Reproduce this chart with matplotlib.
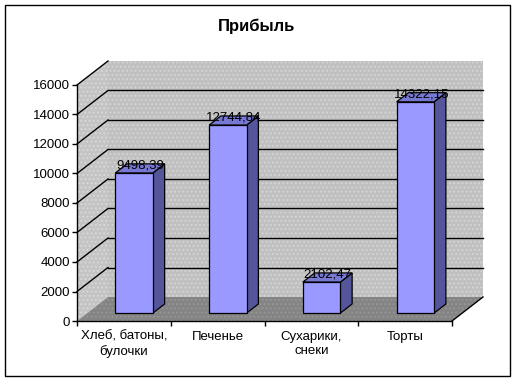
import matplotlib
matplotlib.use("Agg")
import matplotlib.pyplot as plt
from matplotlib.patches import Polygon, Rectangle
from matplotlib.transforms import ScaledTranslation, IdentityTransform

# данные с графика
categories = ["Хлеб, батоны,\nбулочки", "Печенье", "Сухарики,\nснеки", "Торты"]
values = [9498.39, 12744.84, 2102.47, 14322.15]
value_labels = ["9498,39", "12744,84", "2102,47", "14322,15"]
yticks = [0, 2000, 4000, 6000, 8000, 10000, 12000, 14000, 16000]
title = "Прибыль"

W, H, DPI = 517, 381, 100
DEPTH_X, DEPTH_Y = 31, 24          # сдвиг задней стенки, px
BAR_Z0, BAR_Z1 = 0.33, 0.71        # глубина столбика (доля)
BAR_HALF = 0.2                     # половина ширины столбика (в категориях)
FS = 9.5

plt.rcParams["font.family"] = ["Liberation Sans", "DejaVu Sans"]
plt.rcParams["hatch.linewidth"] = 0.8

fig = plt.figure(figsize=(W / DPI, H / DPI), dpi=DPI)
ax = fig.add_axes([77 / W, (H - 321) / H, 375 / W, 236 / H])
ax.set_xlim(0, len(categories))
ax.set_ylim(yticks[0], yticks[-1])
ax.patch.set_visible(False)
for s in ("top", "right"):
    ax.spines[s].set_visible(False)
for s in ("left", "bottom"):
    ax.spines[s].set_linewidth(1)
    ax.spines[s].set_zorder(10)


def depth(z):
    """transData, сдвинутый вглубь на долю z"""
    return ax.transData + ScaledTranslation(z * DEPTH_X / DPI, z * DEPTH_Y / DPI, fig.dpi_scale_trans)


def P(x, v, z):
    return depth(z).transform((x, v))


def poly(points, **kw):
    p = Polygon(points, closed=True, transform=IdentityTransform(), clip_on=False, **kw)
    ax.add_patch(p)
    return p


def line(a, b, **kw):
    ax.plot([a[0], b[0]], [a[1], b[1]], transform=IdentityTransform(), clip_on=False, **kw)


n = len(categories)
top = yticks[-1]

# стенки и пол
poly([P(0, 0, 1), P(n, 0, 1), P(n, top, 1), P(0, top, 1)],
     facecolor="#c0c0c0", edgecolor="#d6d6d6", hatch="....", lw=0, zorder=1)
poly([P(0, 0, 0), P(0, 0, 1), P(0, top, 1), P(0, top, 0)],
     facecolor="#c4c4c4", edgecolor="#dadada", hatch="....", lw=0, zorder=1)
poly([P(0, 0, 0), P(n, 0, 0), P(n, 0, 1), P(0, 0, 1)],
     facecolor="#848484", edgecolor="#989898", hatch="....", lw=0, zorder=1)
line(P(n, 0, 0), P(n, 0, 1), color="black", lw=1, zorder=2)

# сетка
for v in yticks[1:]:
    if v < top:
        line(P(0, v, 1), P(n, v, 1), color="black", lw=1, zorder=2)
    line(P(0, v, 0), P(0, v, 1), color="black", lw=1, zorder=2)

# столбики
for i, v in enumerate(values):
    x0, x1 = i + 0.5 - BAR_HALF, i + 0.5 + BAR_HALF
    front = [P(x0, 0, BAR_Z0), P(x1, 0, BAR_Z0), P(x1, v, BAR_Z0), P(x0, v, BAR_Z0)]
    side = [P(x1, 0, BAR_Z0), P(x1, 0, BAR_Z1), P(x1, v, BAR_Z1), P(x1, v, BAR_Z0)]
    roof = [P(x0, v, BAR_Z0), P(x1, v, BAR_Z0), P(x1, v, BAR_Z1), P(x0, v, BAR_Z1)]
    poly(side, facecolor="#55559c", edgecolor="black", lw=0.9, zorder=3)
    poly(roof, facecolor="#7777d4", edgecolor="black", lw=0.9, zorder=3)
    poly(front, facecolor="#9999ff", edgecolor="black", lw=0.9, zorder=4)
    ax.text(i + 0.5, v, value_labels[i], transform=depth(0.52), ha="center", va="baseline",
            fontsize=FS, color="black", zorder=6, clip_on=False)

# оси
ax.set_yticks(yticks)
ax.set_yticklabels([str(t) for t in yticks])
ax.set_xticks(range(n + 1))
ax.set_xticklabels([])
ax.set_xticks([i + 0.5 for i in range(n)], minor=True)
ax.set_xticklabels(categories, minor=True, fontsize=FS)
ax.tick_params(axis="y", direction="out", length=3.6, width=1, pad=1.5, labelsize=FS)
ax.tick_params(axis="x", which="major", direction="out", length=3.6, width=1)
ax.tick_params(axis="x", which="minor", length=0, pad=7)

fig.text(257 / W, 1 - 26 / H, title, ha="center", va="center", fontsize=12, fontweight="bold")
fig.add_artist(Rectangle((5 / W, 5 / H), 505 / W, 371 / H, transform=fig.transFigure,
                         fill=False, edgecolor="black", lw=1))

fig.savefig("out.png", dpi=DPI, facecolor="white")
